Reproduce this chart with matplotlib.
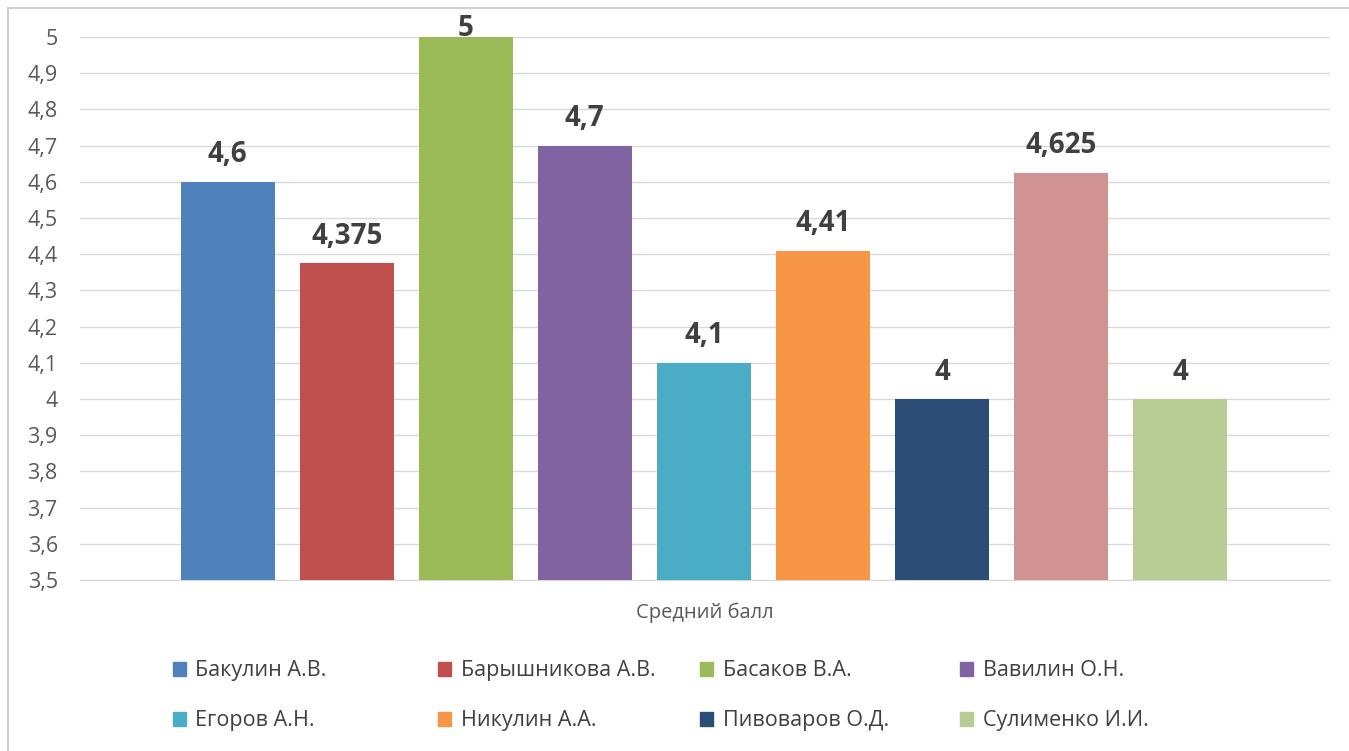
import matplotlib
matplotlib.use("Agg")
import matplotlib.pyplot as plt
from matplotlib.patches import Patch, Rectangle

names = ["Бакулин А.В.", "Барышникова А.В.", "Басаков В.А.", "Вавилин О.Н.",
         "Егоров А.Н.", "Никулин А.А.", "Пивоваров О.Д.", "", "Сулименко И.И."]
scores = [4.6, 4.375, 5, 4.7, 4.1, 4.41, 4, 4.625, 4]
colors = ["#4F81BD", "#C0504D", "#9BBB59", "#8064A2", "#4BACC6",
          "#F79646", "#2C4D75", "#D09293", "#B7CD95"]
yticks = [3.5 + 0.1 * i for i in range(16)]
category = "Средний балл"


def comma(v):
    s = f"{v:.3f}".rstrip("0").rstrip(".")
    return s.replace(".", ",")


def main():
    plt.rcParams["font.family"] = ["Open Sans", "DejaVu Sans"]
    fig = plt.figure(figsize=(13.49, 7.51), dpi=100)
    ax = fig.add_axes([0.0593, 0.2277, 0.9267, 0.723])

    xs = list(range(len(scores)))
    ax.bar(xs, [s - 3.5 for s in scores], bottom=3.5, width=0.79,
           color=colors, zorder=3)

    for x, s in zip(xs, scores):
        off = -4 if s >= 5 else 9
        ax.annotate(comma(s), (x, s), xytext=(0, off), textcoords="offset points",
                    ha="center", va="bottom", fontsize=20, fontweight="bold",
                    color="#404040", annotation_clip=False, zorder=4)

    ax.set_xlim(-1.24, 9.26)
    ax.set_ylim(3.5, 5.0)
    ax.set_yticks(yticks)
    ax.set_yticklabels([comma(round(t, 1)) for t in yticks])
    ax.tick_params(axis="y", length=0, labelsize=15.5, labelcolor="#595959", pad=16)
    ax.set_xticks([])
    ax.yaxis.grid(True, color="#D9D9D9", linewidth=1, zorder=0)
    for side in ("top", "right", "left"):
        ax.spines[side].set_visible(False)
    ax.spines["bottom"].set_color("#D9D9D9")
    ax.set_xlabel(category, fontsize=14.5, color="#595959", labelpad=16)

    # legend, one block per column (row-major order like the original)
    entries = [i for i, n in enumerate(names) if n]
    col_x = [0.120, 0.317, 0.511, 0.704]
    for c in range(4):
        idx = entries[c::4]
        handles = [Patch(color=colors[i]) for i in idx]
        fig.legend(handles, [names[i] for i in idx], loc="upper left",
                   bbox_to_anchor=(col_x[c], 0.135), frameon=False, fontsize=15.5,
                   labelcolor="#404040", handlelength=0.6, handleheight=0.6,
                   handletextpad=0.45, labelspacing=1.35, borderpad=0)

    fig.patches.append(Rectangle((0.006, -0.01), 1.0, 1.0, transform=fig.transFigure,
                                 fill=False, edgecolor="#D0D0D0", linewidth=1.5))

    fig.savefig("out.png", dpi=100)


if __name__ == "__main__":
    main()
